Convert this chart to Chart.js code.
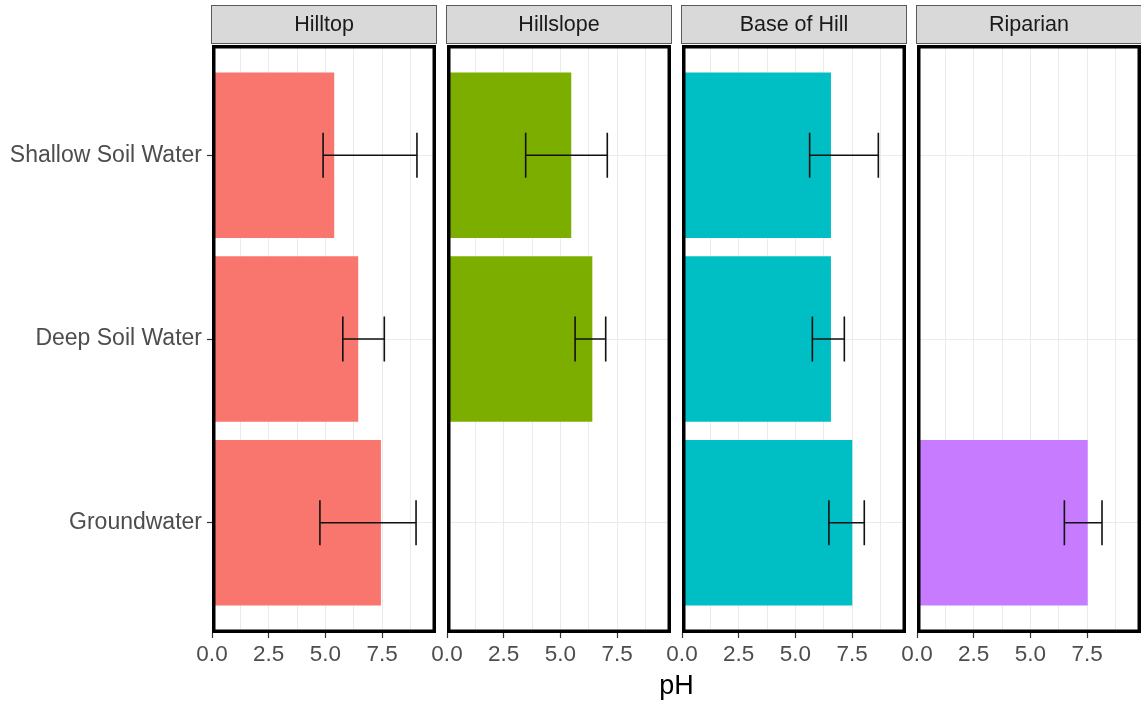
<!DOCTYPE html>
<html>
<head>
<meta charset="utf-8">
<script src="https://cdn.jsdelivr.net/npm/chart.js@4.4.1/dist/chart.umd.min.js"></script>
<style>
  html, body { margin: 0; padding: 0; background: #ffffff; }
  #wrap { position: relative; width: 1141px; height: 704px; }
  #wrap canvas { position: absolute; left: 0; top: 0; }
</style>
</head>
<body>
<div id="wrap"></div>
<script>
// Water types shown on the vertical axis (top to bottom)
const waterTypes = ['Shallow Soil Water', 'Deep Soil Water', 'Groundwater'];
// Facet panels, left to right
const sites = ['Hilltop', 'Hillslope', 'Base of Hill', 'Riparian'];
const siteColors = ['#F8766D', '#7CAE00', '#00BFC4', '#C77CFF'];

// Mean pH per water type, with lower / upper error-bar ends
const hilltopMean   = [5.39, 6.45, 7.45];
const hilltopLow    = [4.90, 5.77, 4.76];
const hilltopHigh   = [9.04, 7.60, 9.00];

const hillslopeMean = [5.48, 6.41, null];
const hillslopeLow  = [3.47, 5.65, null];
const hillslopeHigh = [7.07, 7.00, null];

const baseMean      = [6.57, 6.57, 7.51];
const baseLow       = [5.63, 5.75, 6.48];
const baseHigh      = [8.66, 7.16, 8.04];

const riparianMean  = [null, null, 7.53];
const riparianLow   = [null, null, 6.50];
const riparianHigh  = [null, null, 8.16];

// x axis: grid every 1.25, labels every 2.5
const xTickValues = [0, 1.25, 2.5, 3.75, 5, 6.25, 7.5, 8.75];
const xTickLabels = ['0.0', '', '2.5', '', '5.0', '', '7.5', ''];
const xMax = 9.88;

const means = [hilltopMean, hillslopeMean, baseMean, riparianMean];
const lows  = [hilltopLow, hillslopeLow, baseLow, riparianLow];
const highs = [hilltopHigh, hillslopeHigh, baseHigh, riparianHigh];

// Layout
const W = 1141, H = 704;
const panelLefts = [212, 447, 682, 917];
const panelWidth = 224;
const plotTop = 45, plotBottom = 633;
const FONT = '"Liberation Sans", Arial, Helvetica, sans-serif';

const wrap = document.getElementById('wrap');

function facetPlugin(panelIndex) {
  return {
    id: 'facet' + panelIndex,
    afterDatasetsDraw(chart) {
      // error bars
      const { ctx, scales: { x, y } } = chart;
      const lo = lows[panelIndex], hi = highs[panelIndex];
      ctx.save();
      ctx.strokeStyle = '#111111';
      ctx.lineWidth = 1.6;
      lo.forEach((l, i) => {
        if (l == null) return;
        const yc = y.getPixelForValue(i + 1);
        const capT = y.getPixelForValue(i + 1 - 0.1225);
        const capB = y.getPixelForValue(i + 1 + 0.1225);
        const x0 = x.getPixelForValue(l);
        const x1 = x.getPixelForValue(hi[i]);
        ctx.beginPath();
        ctx.moveTo(x0, yc); ctx.lineTo(x1, yc);
        ctx.moveTo(x0, capT); ctx.lineTo(x0, capB);
        ctx.moveTo(x1, capT); ctx.lineTo(x1, capB);
        ctx.stroke();
      });
      ctx.restore();
    },
    afterDraw(chart) {
      const { ctx, chartArea: a } = chart;
      ctx.save();
      // panel border
      ctx.strokeStyle = '#000000';
      ctx.lineWidth = 3.5;
      ctx.strokeRect(a.left + 1.75, a.top + 1.75, a.right - a.left - 3.5, a.bottom - a.top - 3.5);
      // strip
      ctx.fillStyle = '#D9D9D9';
      ctx.fillRect(a.left - 0.5, 5, a.right - a.left + 1, 38.5);
      ctx.strokeStyle = '#5a5a5a';
      ctx.lineWidth = 1;
      ctx.strokeRect(a.left - 0.5, 5.5, a.right - a.left + 1, 38);
      ctx.fillStyle = '#1A1A1A';
      ctx.font = '21.5px ' + FONT;
      ctx.textAlign = 'center';
      ctx.textBaseline = 'middle';
      ctx.fillText(sites[panelIndex], (a.left + a.right) / 2, 25);
      // shared axis title
      if (panelIndex === 0) {
        ctx.fillStyle = '#000000';
        ctx.font = '27px ' + FONT;
        ctx.fillText('pH', (panelLefts[0] + panelLefts[3] + panelWidth) / 2, 687);
      }
      ctx.restore();
    }
  };
}

sites.forEach((site, p) => {
  const canvas = document.createElement('canvas');
  canvas.width = W; canvas.height = H;
  canvas.style.width = W + 'px'; canvas.style.height = H + 'px';
  wrap.appendChild(canvas);

  const points = [];
  means[p].forEach((v, i) => { if (v != null) points.push({ x: v, y: i + 1 }); });

  const left = panelLefts[p];
  const first = p === 0;

  new Chart(canvas, {
    type: 'bar',
    data: {
      datasets: [{
        label: site,
        data: points,
        backgroundColor: siteColors[p],
        borderWidth: 0,
        barPercentage: 0.9,
        categoryPercentage: 1
      }]
    },
    options: {
      indexAxis: 'y',
      responsive: false,
      animation: false,
      devicePixelRatio: 1,
      layout: { padding: { left: 0, top: plotTop, right: W - (left + panelWidth), bottom: 0 } },
      plugins: { legend: { display: false }, tooltip: { enabled: false } },
      scales: {
        x: {
          type: 'linear',
          min: 0,
          max: xMax,
          afterBuildTicks: s => { s.ticks = xTickValues.map(v => ({ value: v })); },
          afterFit: s => { s.height = H - plotBottom; },
          border: { display: false },
          grid: {
            color: '#EBEBEB',
            lineWidth: 1,
            tickLength: 5,
            tickWidth: 1.2,
            tickColor: c => (xTickLabels[c.index] ? '#333333' : 'rgba(0,0,0,0)')
          },
          ticks: {
            autoSkip: false,
            maxRotation: 0,
            padding: 3,
            color: '#4D4D4D',
            font: { family: FONT, size: 22.5 },
            callback: (v, i) => xTickLabels[i]
          }
        },
        y: {
          type: 'linear',
          min: 0.4,
          max: 3.6,
          reverse: true,
          offset: false,
          afterBuildTicks: s => { s.ticks = waterTypes.map((_, i) => ({ value: i + 1 })); },
          afterFit: s => { s.width = left; },
          border: { display: false },
          grid: {
            offset: false,
            color: '#EBEBEB',
            lineWidth: 1,
            drawTicks: first,
            tickLength: 5,
            tickWidth: 1.2,
            tickColor: '#333333'
          },
          ticks: {
            display: first,
            autoSkip: false,
            padding: 5,
            color: '#4D4D4D',
            font: { family: FONT, size: 23 },
            callback: (v, i) => waterTypes[i]
          }
        }
      }
    },
    plugins: [facetPlugin(p)]
  });
});
</script>
</body>
</html>
